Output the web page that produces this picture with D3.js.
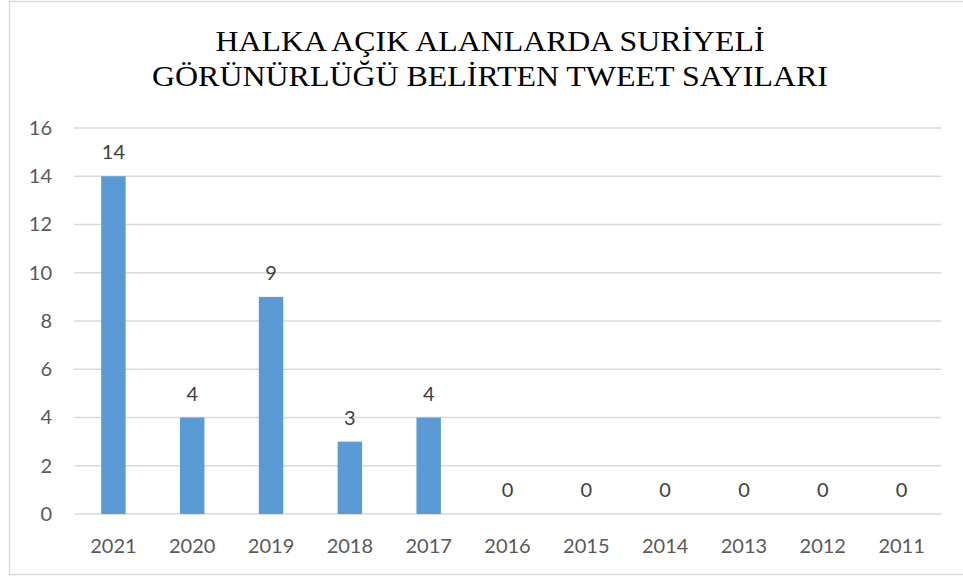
<!DOCTYPE html>
<html>
<head>
<meta charset="utf-8">
<script src="https://cdn.jsdelivr.net/npm/d3@7"></script>
<style>
  body { margin: 0; background: #fff; }
  svg { display: block; }
</style>
</head>
<body>
<div id="chart"></div>
<script>
// chart data
var years = ["2021", "2020", "2019", "2018", "2017", "2016", "2015", "2014", "2013", "2012", "2011"];
var tweetCounts = [14, 4, 9, 3, 4, 0, 0, 0, 0, 0, 0];
var yTicks = [0, 2, 4, 6, 8, 10, 12, 14, 16];
var titleLines = ["HALKA AÇIK ALANLARDA SURİYELİ", "GÖRÜNÜRLÜĞÜ BELİRTEN TWEET SAYILARI"];

var svgWidth = 963;
var svgHeight = 576;

// plot area in page pixels
var margin = { top: 128, right: 22, bottom: 62, left: 74 };
var chartWidth = svgWidth - margin.left - margin.right;
var chartHeight = svgHeight - margin.top - margin.bottom;

var svg = d3.select("#chart")
  .append("svg")
  .attr("width", svgWidth)
  .attr("height", svgHeight);

// outer frame (runs off the right side like the picture)
svg.append("rect")
  .attr("x", 9.5)
  .attr("y", 1.5)
  .attr("width", 1000)
  .attr("height", 573)
  .attr("fill", "none")
  .attr("stroke", "#d9d9d9")
  .attr("stroke-width", 1.5);

// title, two lines
var titleWidths = [549, 676];
svg.append("g").selectAll("text")
  .data(titleLines)
  .enter()
  .append("text")
  .attr("x", 490)
  .attr("y", (d, i) => 51 + i * 35)
  .attr("text-anchor", "middle")
  .attr("textLength", (d, i) => titleWidths[i])
  .attr("lengthAdjust", "spacingAndGlyphs")
  .style("font-family", "'Liberation Serif', 'Times New Roman', serif")
  .style("font-size", "30px")
  .style("fill", "#000")
  .text(d => d);

var chartGroup = svg.append("g")
  .attr("transform", `translate(${margin.left}, ${margin.top})`);

var xScale = d3.scaleBand()
  .domain(years)
  .range([0, chartWidth])
  .padding(0);

var yScale = d3.scaleLinear()
  .domain([0, 16])
  .range([chartHeight, 0]);

// gridlines
chartGroup.append("g")
  .selectAll("line")
  .data(yTicks)
  .enter()
  .append("line")
  .attr("x1", 0)
  .attr("x2", chartWidth)
  .attr("y1", d => yScale(d))
  .attr("y2", d => yScale(d))
  .attr("stroke", "#d9d9d9")
  .attr("stroke-width", 1.5);

// y axis labels
var yAxis = d3.axisLeft(yScale).tickValues(yTicks).tickSize(0).tickPadding(22);
chartGroup.append("g")
  .classed("yAxis", true)
  .call(yAxis)
  .call(g => g.select(".domain").remove())
  .selectAll("text")
  .style("font-family", "Lato, 'Open Sans', sans-serif")
  .style("font-size", "20px")
  .style("fill", "#595959");

// x axis labels
var xAxis = d3.axisBottom(xScale).tickSize(0).tickPadding(25);
chartGroup.append("g")
  .classed("xAxis", true)
  .attr("transform", `translate(0,${chartHeight})`)
  .call(xAxis)
  .call(g => g.select(".domain").remove())
  .selectAll("text")
  .style("font-family", "Lato, 'Open Sans', sans-serif")
  .style("font-size", "20px")
  .style("fill", "#595959");

// bars
var barWidth = xScale.bandwidth() * 0.31;
chartGroup.selectAll(".bar")
  .data(tweetCounts)
  .enter()
  .append("rect")
  .classed("bar", true)
  .attr("x", (d, i) => xScale(years[i]) + xScale.bandwidth() / 2 - barWidth / 2)
  .attr("y", d => yScale(d))
  .attr("width", barWidth)
  .attr("height", d => chartHeight - yScale(d))
  .attr("fill", "#5b9bd5");

// value labels
chartGroup.selectAll(".valueText")
  .data(tweetCounts)
  .enter()
  .append("text")
  .classed("valueText", true)
  .attr("x", (d, i) => xScale(years[i]) + xScale.bandwidth() / 2)
  .attr("y", d => yScale(d) - 17)
  .attr("text-anchor", "middle")
  .style("font-family", "Lato, 'Open Sans', sans-serif")
  .style("font-size", "20px")
  .style("fill", "#404040")
  .text(d => d);
</script>
</body>
</html>
